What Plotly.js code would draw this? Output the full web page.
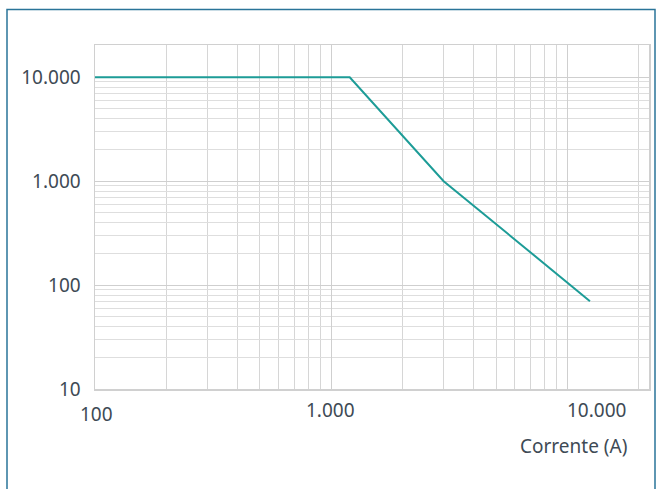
<!DOCTYPE html>
<html>
<head>
<meta charset="utf-8">
<script src="https://cdn.plot.ly/plotly-3.0.1.min.js"></script>
<style>
  html, body { margin: 0; padding: 0; background: #ffffff; }
  #chart { width: 660px; height: 489px; }
</style>
</head>
<body>
<div id="chart"></div>
<script>
// Data
const currentA = [100, 1200, 3000, 12500];
const timeValues = [10000, 10000, 1000, 70];

const yTickVals = [10, 100, 1000, 10000];
const yTickText = ['10', '100', '1.000', '10.000'];
const xTickVals = [100, 1000, 10000];
const xTickText = ['100', '1.000', '10.000'];
const xTitle = 'Corrente (A)';

const textColor = '#3e4a55';
const fontFamily = '"Noto Sans", "Open Sans", sans-serif';

const trace = {
  x: currentA,
  y: timeValues,
  type: 'scatter',
  mode: 'lines',
  line: { color: '#1d9c97', width: 2 },
  hoverinfo: 'skip'
};

// x tick labels as annotations (the reference places them irregularly)
const xLabelShifts = [[1, -25], [-1, -21], [29, -21]];
const annotations = xTickVals.map((v, i) => ({
  x: Math.log10(v), xref: 'x',
  y: 0, yref: 'paper',
  text: xTickText[i],
  showarrow: false,
  xanchor: 'center', yanchor: 'middle',
  xshift: xLabelShifts[i][0], yshift: xLabelShifts[i][1],
  font: { family: fontFamily, size: 19, color: textColor }
}));
annotations.push({
  x: (629 - 95) / 554, xref: 'paper',
  y: 0, yref: 'paper',
  text: xTitle,
  showarrow: false,
  xanchor: 'right', yanchor: 'middle',
  yshift: -57,
  font: { family: fontFamily, size: 19, color: textColor }
});

const layout = {
  width: 660,
  height: 489,
  margin: { l: 95, r: 11, t: 45, b: 100 },
  paper_bgcolor: '#ffffff',
  plot_bgcolor: '#ffffff',
  showlegend: false,
  font: { family: fontFamily, size: 19, color: textColor },
  xaxis: {
    type: 'log',
    range: [2, 4.347],
    tickvals: xTickVals,
    showticklabels: false,
    ticks: '',
    showgrid: true,
    gridcolor: '#cfcfcf',
    gridwidth: 1,
    minor: { dtick: 'D1', showgrid: true, gridcolor: '#d6d6d6', gridwidth: 1, ticks: '' },
    showline: true,
    linecolor: '#d0d0d0',
    linewidth: 1.5,
    mirror: true,
    zeroline: false,
    fixedrange: true
  },
  yaxis: {
    type: 'log',
    range: [1, 4.31],
    tickvals: yTickVals,
    ticktext: yTickText,
    ticks: '',
    ticklabelstandoff: 9,
    tickfont: { family: fontFamily, size: 19, color: textColor },
    showgrid: true,
    gridcolor: '#cfcfcf',
    gridwidth: 1,
    minor: { dtick: 'D1', showgrid: true, gridcolor: '#dedede', gridwidth: 1, ticks: '' },
    showline: true,
    linecolor: '#d0d0d0',
    linewidth: 1.5,
    mirror: true,
    zeroline: false,
    fixedrange: true
  },
  annotations: annotations,
  shapes: [{
    type: 'rect',
    xref: 'paper', yref: 'paper',
    x0: (7 - 95) / 554, x1: (655 - 95) / 554,
    y0: (389.5 - 9.5) / 344.5, y1: (389.5 - 500) / 344.5,
    line: { color: '#2a7499', width: 1.5 },
    fillcolor: 'rgba(0,0,0,0)',
    layer: 'above'
  }]
};

Plotly.newPlot('chart', [trace], layout, { displayModeBar: false, staticPlot: true });
</script>
</body>
</html>
